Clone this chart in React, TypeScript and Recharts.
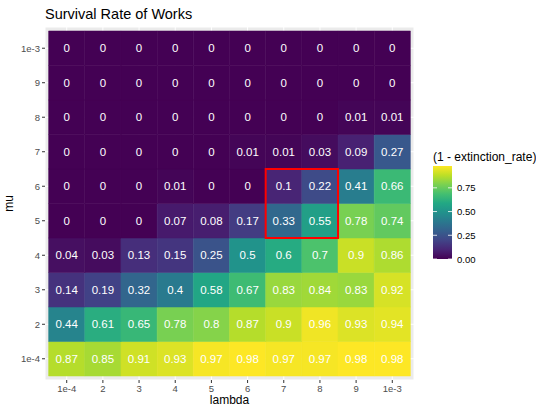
import React from "react";
import {
  ScatterChart,
  Scatter,
  XAxis,
  YAxis,
  CartesianGrid,
  ReferenceArea,
} from "recharts";

// x categories (lambda), left to right
const lambdaLabels = ["1e-4", "2", "3", "4", "5", "6", "7", "8", "9", "1e-3"];
// y categories (mu), bottom to top
const muLabels = ["1e-4", "2", "3", "4", "5", "6", "7", "8", "9", "1e-3"];

// survival rate per mu row, one value per lambda column
const muRow1e4 = [0.87, 0.85, 0.91, 0.93, 0.97, 0.98, 0.97, 0.97, 0.98, 0.98];
const muRow2 = [0.44, 0.61, 0.65, 0.78, 0.8, 0.87, 0.9, 0.96, 0.93, 0.94];
const muRow3 = [0.14, 0.19, 0.32, 0.4, 0.58, 0.67, 0.83, 0.84, 0.83, 0.92];
const muRow4 = [0.04, 0.03, 0.13, 0.15, 0.25, 0.5, 0.6, 0.7, 0.9, 0.86];
const muRow5 = [0, 0, 0, 0.07, 0.08, 0.17, 0.33, 0.55, 0.78, 0.74];
const muRow6 = [0, 0, 0, 0.01, 0, 0, 0.1, 0.22, 0.41, 0.66];
const muRow7 = [0, 0, 0, 0, 0, 0.01, 0.01, 0.03, 0.09, 0.27];
const muRow8 = [0, 0, 0, 0, 0, 0, 0, 0, 0.01, 0.01];
const muRow9 = [0, 0, 0, 0, 0, 0, 0, 0, 0, 0];
const muRow1e3 = [0, 0, 0, 0, 0, 0, 0, 0, 0, 0];

const rows = [muRow1e4, muRow2, muRow3, muRow4, muRow5, muRow6, muRow7, muRow8, muRow9, muRow1e3];

// highlighted block: lambda 7..8, mu 5..6
const highlightLambda = ["7", "8"];
const highlightMu = ["5", "6"];

const legendBreaks = [0, 0.25, 0.5, 0.75];

const viridis = [
  "#440154", "#482475", "#414487", "#355F8D", "#2A788E", "#21918C",
  "#22A884", "#44BF70", "#7AD151", "#BDDF26", "#FDE725",
];

const cells = rows.flatMap((row, yi) =>
  row.map((v, xi) => ({ x: xi + 1, y: yi + 1, v }))
);
const maxV = Math.max(...cells.map((c) => c.v));

function hexToRgb(h: string) {
  return [1, 3, 5].map((i) => parseInt(h.slice(i, i + 2), 16));
}

function viridisColor(t: number) {
  const tt = Math.min(1, Math.max(0, t)) * (viridis.length - 1);
  const i = Math.min(viridis.length - 2, Math.floor(tt));
  const f = tt - i;
  const a = hexToRgb(viridis[i]);
  const b = hexToRgb(viridis[i + 1]);
  const c = a.map((av, k) => Math.round(av + (b[k] - av) * f));
  return `rgb(${c[0]},${c[1]},${c[2]})`;
}

const FONT = "'Liberation Sans', Arial, sans-serif";

// legend geometry
const barX = 433;
const barTop = 166;
const barH = 93;
const barW = 19;

export default function App() {
  const hx = highlightLambda.map((l) => lambdaLabels.indexOf(l) + 1);
  const hy = highlightMu.map((m) => muLabels.indexOf(m) + 1);

  return (
    <div style={{ position: "absolute", left: 0, top: 0, width: 536, height: 407, background: "#fff", fontFamily: FONT }}>
      <ScatterChart
        width={536}
        height={407}
        margin={{ top: 27, right: 122, bottom: 7, left: 15 }}
      >
        <CartesianGrid fill="#EBEBEB" stroke="#FFFFFF" strokeWidth={1} />
        <XAxis
          type="number"
          dataKey="x"
          domain={[0.4, 10.6]}
          ticks={lambdaLabels.map((_, i) => i + 1)}
          tickFormatter={(v: number) => lambdaLabels[v - 1]}
          allowDataOverflow
          axisLine={false}
          tickSize={3}
          tickLine={{ stroke: "#333333" }}
          tick={{ fill: "#4D4D4D", fontSize: 9.5, fontFamily: FONT }}
          height={20}
          interval={0}
        />
        <YAxis
          type="number"
          dataKey="y"
          domain={[0.385, 10.615]}
          ticks={muLabels.map((_, i) => i + 1)}
          tickFormatter={(v: number) => muLabels[v - 1]}
          allowDataOverflow
          axisLine={false}
          tickSize={3}
          tickLine={{ stroke: "#333333" }}
          tick={{ fill: "#4D4D4D", fontSize: 9.5, fontFamily: FONT }}
          width={30}
          interval={0}
        />
        {cells.map((c) => {
          const col = viridisColor(c.v / maxV);
          return (
            <ReferenceArea
              key={`${c.x}-${c.y}`}
              x1={c.x - 0.5}
              x2={c.x + 0.5}
              y1={c.y - 0.5}
              y2={c.y + 0.5}
              fill={col}
              fillOpacity={1}
              stroke={col}
              strokeWidth={0.5}
              label={{ value: String(c.v), position: "center", fill: "#FFFFFF", fontSize: 11.5, fontFamily: FONT }}
            />
          );
        })}
        <ReferenceArea
          x1={Math.min(...hx) - 0.5}
          x2={Math.max(...hx) + 0.5}
          y1={Math.min(...hy) - 0.5}
          y2={Math.max(...hy) + 0.5}
          fill="none"
          fillOpacity={0}
          stroke="#FF0000"
          strokeWidth={2}
        />
        <Scatter data={cells} isAnimationActive={false} shape={() => <g />} />
      </ScatterChart>

      <svg width={536} height={407} style={{ position: "absolute", left: 0, top: 0, pointerEvents: "none" }}>
        <text x={45} y={19} fontSize={14.5} fill="#000" fontFamily={FONT}>
          Survival Rate of Works
        </text>
        <text x={229.5} y={404} fontSize={12} fill="#000" textAnchor="middle" fontFamily={FONT}>
          lambda
        </text>
        <text
          x={13}
          y={203.5}
          fontSize={12}
          fill="#000"
          textAnchor="middle"
          fontFamily={FONT}
          transform="rotate(-90 13 203.5)"
        >
          mu
        </text>

        <defs>
          <linearGradient id="vgrad" x1="0" y1="1" x2="0" y2="0">
            {viridis.map((c, i) => (
              <stop key={i} offset={i / (viridis.length - 1)} stopColor={c} />
            ))}
          </linearGradient>
        </defs>
        <text x={433} y={161} fontSize={12} fill="#000" fontFamily={FONT}>
          (1 - extinction_rate)
        </text>
        <rect x={barX} y={barTop} width={barW} height={barH} fill="url(#vgrad)" />
        {legendBreaks.map((b) => {
          const y = barTop + barH - (b / maxV) * barH;
          return (
            <g key={b}>
              <line x1={barX} x2={barX + 4} y1={y} y2={y} stroke="#fff" strokeWidth={0.8} />
              <line x1={barX + barW - 4} x2={barX + barW} y1={y} y2={y} stroke="#fff" strokeWidth={0.8} />
              <text x={457} y={y + 3.5} fontSize={9.5} fill="#000" fontFamily={FONT}>
                {b.toFixed(2)}
              </text>
            </g>
          );
        })}
      </svg>
    </div>
  );
}
